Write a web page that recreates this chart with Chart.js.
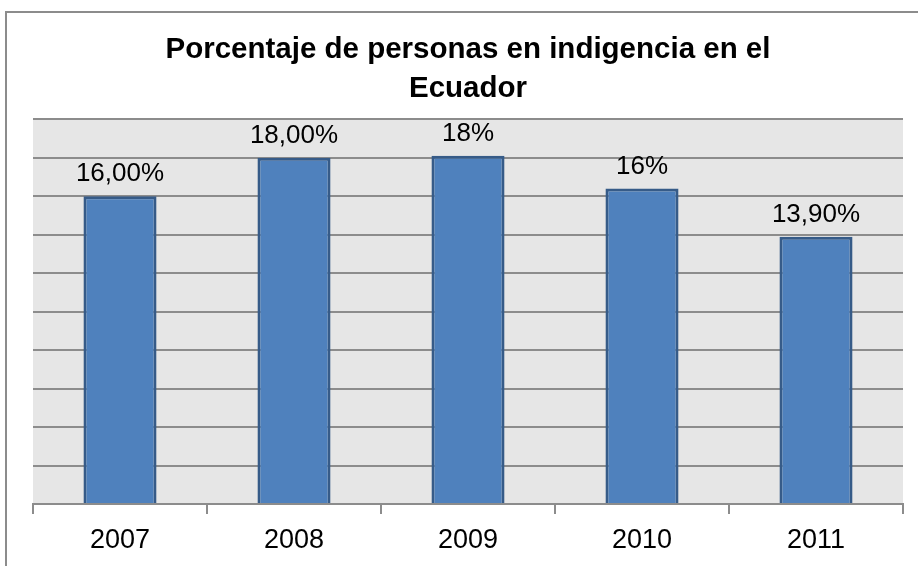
<!DOCTYPE html>
<html>
<head>
<meta charset="utf-8">
<script src="https://cdn.jsdelivr.net/npm/chart.js@4"></script>
<style>
  html, body { margin: 0; padding: 0; background: #fff; }
  #wrap { width: 918px; height: 566px; position: relative; }
</style>
</head>
<body>
<div id="wrap"><canvas id="myChart" width="918" height="566"></canvas></div>
<script>
const years = ['2007', '2008', '2009', '2010', '2011'];
const indigencia = [16.0, 18.0, 18.1, 16.4, 13.9];
const valueLabels = ['16,00%', '18,00%', '18%', '16%', '13,90%'];
const titleLines = ['Porcentaje de personas en indigencia en el', 'Ecuador'];

const FONT = '"Liberation Sans", Arial, sans-serif';

// grey plot area + outer frame
const backdrop = {
    id: 'backdrop',
    beforeDraw(chart) {
        const { ctx, chartArea: a } = chart;
        ctx.save();
        ctx.strokeStyle = '#8c8c8c';
        ctx.lineWidth = 2;
        ctx.beginPath();
        ctx.moveTo(6, 566);
        ctx.lineTo(6, 12);
        ctx.lineTo(918, 12);
        ctx.stroke();
        ctx.fillStyle = '#e6e6e6';
        ctx.fillRect(a.left, a.top, a.right - a.left, a.bottom - a.top);
        ctx.restore();
    }
};

// value labels above the bars
const barLabels = {
    id: 'barLabels',
    afterDatasetsDraw(chart) {
        const { ctx } = chart;
        const meta = chart.getDatasetMeta(0);
        ctx.save();
        ctx.font = '26px ' + FONT;
        ctx.fillStyle = '#000';
        ctx.textAlign = 'center';
        ctx.textBaseline = 'alphabetic';
        meta.data.forEach((bar, i) => {
            ctx.fillText(valueLabels[i], bar.x, bar.y - 15);
        });
        ctx.restore();
    }
};

const ctx = document.getElementById('myChart').getContext('2d');
const chart = new Chart(ctx, {
    type: 'bar',
    data: {
        labels: years,
        datasets: [{
            label: 'Indigencia',
            data: indigencia,
            backgroundColor: '#4f81bd',
            borderColor: '#365b88',
            borderWidth: 3,
            borderSkipped: 'bottom',
            categoryPercentage: 1,
            barPercentage: 0.42
        }]
    },
    options: {
        responsive: false,
        animation: false,
        layout: { padding: { left: 33, right: 15, top: 0, bottom: 0 } },
        plugins: {
            legend: { display: false },
            tooltip: { enabled: false },
            title: {
                display: true,
                text: titleLines,
                color: '#000',
                font: { family: FONT, size: 29.5, weight: 'bold', lineHeight: 1.31 },
                padding: { top: 31, bottom: 11 }
            }
        },
        scales: {
            x: {
                grid: { drawOnChartArea: false, drawTicks: true, tickLength: 10, color: '#8c8c8c', lineWidth: 2 },
                border: { color: '#8c8c8c', width: 2 },
                ticks: { color: '#000', font: { family: FONT, size: 27 }, padding: 10 },
                afterFit(scale) { scale.height = 62; }
            },
            y: {
                min: 0,
                max: 20,
                ticks: { display: false, stepSize: 2 },
                border: { display: false },
                grid: { color: '#8c8c8c', lineWidth: 2, drawTicks: false },
                afterFit(scale) { scale.width = 0; }
            }
        }
    },
    plugins: [backdrop, barLabels]
});
</script>
</body>
</html>
